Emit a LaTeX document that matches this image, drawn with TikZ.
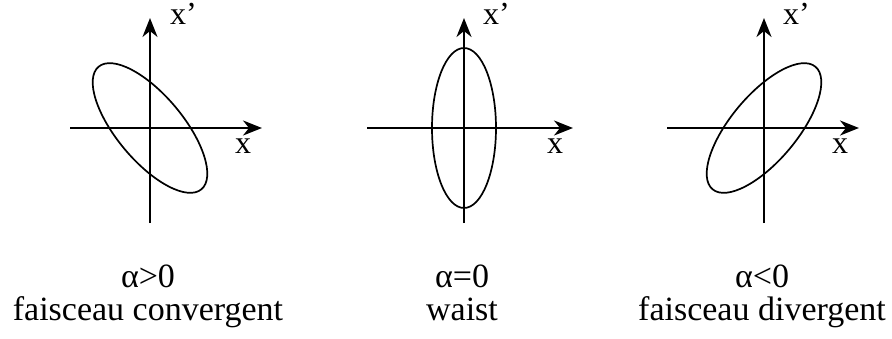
\documentclass[tikz,border=0pt]{standalone}
\usepackage{fontspec}
\setmainfont{Liberation Serif}
\usetikzlibrary{arrows.meta,positioning}
\tikzset{
  axis/.style={-{Stealth[length=19pt,width=15pt,inset=6pt]},line width=2pt},
  beam/.style={line width=1.7pt},
  axlabel/.style={font=\fontsize{32}{36}\selectfont,inner sep=0pt},
  caption/.style={font=\fontsize{34}{36}\selectfont,inner sep=0pt,anchor=base},
}
\begin{document}
\begin{tikzpicture}[x=1pt,y=1pt]
  \useasboundingbox (0,0) rectangle (892,338);
  % convergent beam
  \coordinate (o1) at (150,210);
  \coordinate (h1l) at (70,210);  \coordinate (h1r) at (262,210);
  \coordinate (v1b) at (150,115); \coordinate (v1t) at (150,320);
  \draw[axis] (h1l) -- (h1r);
  \draw[axis] (v1b) -- (v1t);
  \draw[beam,rotate around={-50:(o1)}] (o1) ellipse [x radius=80,y radius=33];
  \node[axlabel,anchor=base west] (xp1) at (170,313) {x’};
  \node[axlabel,anchor=base] (x1) at (243,185) {x};
  \node[caption] (a1) at (148,51) {α>0};
  \node[caption] (c1) at (148,18) {faisceau convergent};
  % waist
  \coordinate (o2) at (464,210);
  \coordinate (h2l) at (367,210); \coordinate (h2r) at (573,210);
  \coordinate (v2b) at (464,115); \coordinate (v2t) at (464,320);
  \draw[axis] (h2l) -- (h2r);
  \draw[axis] (v2b) -- (v2t);
  \draw[beam] (o2) ellipse [x radius=32,y radius=80];
  \node[axlabel,anchor=base west] (xp2) at (483,313) {x’};
  \node[axlabel,anchor=base] (x2) at (555,185) {x};
  \node[caption] (a2) at (462,51) {α=0};
  \node[caption] (c2) at (462,18) {waist};
  % divergent beam
  \coordinate (o3) at (764,210);
  \coordinate (h3l) at (667,210); \coordinate (h3r) at (859,210);
  \coordinate (v3b) at (764,115); \coordinate (v3t) at (764,320);
  \draw[axis] (h3l) -- (h3r);
  \draw[axis] (v3b) -- (v3t);
  \draw[beam,rotate around={50:(o3)}] (o3) ellipse [x radius=80,y radius=33];
  \node[axlabel,anchor=base west] (xp3) at (783,313) {x’};
  \node[axlabel,anchor=base] (x3) at (840,185) {x};
  \node[caption] (a3) at (762,51) {α<0};
  \node[caption] (c3) at (762,18) {faisceau divergent};
\end{tikzpicture}
\end{document}
